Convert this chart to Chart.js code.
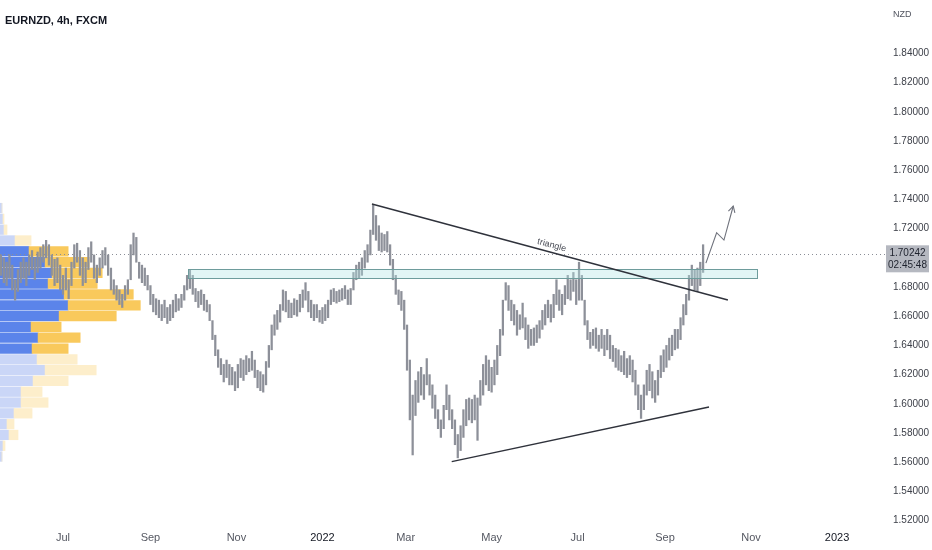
<!DOCTYPE html>
<html>
<head>
<meta charset="utf-8">
<title>EURNZD 4h</title>
<script src="https://cdn.jsdelivr.net/npm/chart.js@4.4.1/dist/chart.umd.min.js"></script>
<style>
html,body{margin:0;padding:0;background:#fff;}
canvas{display:block;}
</style>
</head>
<body>
<canvas id="chart" width="932" height="550"></canvas>
<script>
const title = "EURNZD, 4h, FXCM";
const currency = "NZD";

// sampled every 2 days, day 0 = 1 Jul 2021
const startDay = -44;
const stepDays = 2;

const highs = [
1.702,1.700,1.697,1.702,1.695,1.685,1.692,1.697,1.700,1.697,
1.702,1.705,1.700,1.704,1.707,1.709,1.712,1.709,1.702,1.699,
1.700,1.695,1.688,1.693,1.685,1.697,1.709,1.710,1.705,1.700,
1.697,1.707,1.711,1.702,1.695,1.700,1.705,1.707,1.702,1.693,
1.685,1.681,1.678,1.675,1.681,1.685,1.709,1.717,1.714,1.697,
1.695,1.693,1.688,1.681,1.675,1.672,1.671,1.668,1.671,1.666,
1.668,1.671,1.675,1.672,1.675,1.681,1.688,1.692,1.688,1.679,
1.677,1.678,1.675,1.671,1.668,1.657,1.647,1.637,1.631,1.627,
1.630,1.627,1.625,1.622,1.627,1.631,1.630,1.633,1.631,1.636,
1.630,1.623,1.622,1.620,1.629,1.640,1.654,1.661,1.664,1.668,
1.678,1.677,1.671,1.669,1.672,1.671,1.675,1.678,1.683,1.677,
1.671,1.668,1.668,1.664,1.666,1.668,1.671,1.678,1.679,1.677,
1.678,1.679,1.681,1.678,1.679,1.690,1.695,1.697,1.700,1.705,
1.709,1.719,1.736,1.729,1.722,1.717,1.716,1.718,1.709,1.699,
1.688,1.678,1.677,1.671,1.654,1.630,1.606,1.616,1.622,1.625,
1.620,1.631,1.620,1.613,1.606,1.596,1.589,1.599,1.613,1.606,
1.596,1.589,1.579,1.585,1.596,1.603,1.604,1.603,1.606,1.604,
1.616,1.627,1.633,1.630,1.625,1.630,1.640,1.651,1.671,1.683,
1.681,1.671,1.668,1.664,1.661,1.669,1.659,1.654,1.651,1.652,
1.654,1.657,1.664,1.668,1.671,1.668,1.675,1.685,1.678,1.675,
1.681,1.688,1.685,1.690,1.685,1.697,1.688,1.671,1.657,1.649,
1.651,1.652,1.647,1.651,1.647,1.651,1.647,1.640,1.638,1.637,
1.633,1.636,1.631,1.633,1.630,1.623,1.613,1.606,1.613,1.623,
1.627,1.622,1.616,1.623,1.633,1.637,1.640,1.645,1.647,1.651,
1.651,1.659,1.668,1.675,1.688,1.695,1.692,1.693,1.697,1.709
];

const lows = [
1.688,1.683,1.681,1.686,1.678,1.671,1.677,1.683,1.686,1.681,
1.688,1.692,1.685,1.690,1.693,1.697,1.700,1.695,1.688,1.681,
1.683,1.678,1.675,1.678,1.672,1.681,1.693,1.697,1.688,1.681,
1.683,1.692,1.697,1.686,1.683,1.688,1.693,1.695,1.688,1.678,
1.675,1.671,1.668,1.666,1.671,1.675,1.685,1.702,1.697,1.686,
1.683,1.681,1.678,1.668,1.663,1.661,1.659,1.657,1.659,1.655,
1.657,1.659,1.663,1.664,1.666,1.671,1.678,1.679,1.675,1.670,
1.666,1.668,1.664,1.663,1.657,1.644,1.633,1.625,1.620,1.615,
1.618,1.613,1.613,1.609,1.611,1.618,1.616,1.620,1.622,1.623,
1.618,1.611,1.609,1.608,1.613,1.625,1.637,1.647,1.651,1.656,
1.664,1.663,1.659,1.659,1.661,1.660,1.663,1.666,1.671,1.663,
1.659,1.657,1.659,1.656,1.655,1.657,1.659,1.668,1.670,1.669,
1.670,1.671,1.672,1.668,1.668,1.678,1.685,1.686,1.688,1.693,
1.697,1.702,1.716,1.712,1.705,1.704,1.705,1.704,1.695,1.685,
1.675,1.668,1.664,1.651,1.623,1.589,1.565,1.592,1.601,1.606,
1.603,1.613,1.606,1.597,1.590,1.583,1.577,1.583,1.596,1.589,
1.583,1.572,1.563,1.568,1.577,1.585,1.589,1.587,1.589,1.575,
1.599,1.606,1.613,1.609,1.608,1.613,1.620,1.633,1.647,1.671,
1.664,1.657,1.654,1.647,1.651,1.652,1.644,1.638,1.640,1.640,
1.642,1.645,1.651,1.654,1.659,1.656,1.659,1.668,1.664,1.661,
1.668,1.672,1.671,1.677,1.668,1.671,1.671,1.654,1.644,1.638,
1.640,1.638,1.636,1.638,1.633,1.637,1.631,1.629,1.625,1.623,
1.622,1.620,1.618,1.620,1.615,1.606,1.596,1.590,1.596,1.606,
1.609,1.604,1.601,1.606,1.618,1.622,1.625,1.630,1.633,1.637,
1.638,1.644,1.654,1.661,1.671,1.681,1.678,1.677,1.681,1.690
];

const lastPrice = 1.70242;
const countdown = "02:45:48";

const priceTicks = [1.52,1.54,1.56,1.58,1.60,1.62,1.64,1.66,1.68,1.72,1.74,1.76,1.78,1.80,1.82,1.84];
const timeTickDays = [0,62,123,184,243,304,365,427,488,549];
const timeTickLabels = ["Jul","Sep","Nov","2022","Mar","May","Jul","Sep","Nov","2023"];

// visible range volume profile
const vpPrices = [1.7341,1.7267,1.7193,1.7119,1.7045,1.6971,1.6897,1.6823,1.6749,1.6675,1.6601,1.6527,
                  1.6453,1.6379,1.6305,1.6231,1.6157,1.6083,1.6009,1.5935,1.5861,1.5787,1.5713,1.5639];
const vpUp   = [2,3,4,15,29,45,52,48,64,68,59,31,38,32,37,45,33,21,21,14,7,9,3,2];
const vpDown = [0,1,3,16,39,44,50,49,69,72,57,30,42,36,40,51,35,21,27,18,7,9,2,0];
const vpValueArea = [0,0,0,0,1,1,1,1,1,1,1,1,1,1,0,0,0,0,0,0,0,0,0,0];

// drawings (day, price)
const triangleTop = [[219.1,1.7369],[471.6,1.6711]];
const triangleBottom = [[275.7,1.5604],[458.2,1.5978]];
const zone = {from:88.9, to:492.2, low:1.6858, high:1.6922};
const arrowPath = [[456,1.6964],[463.6,1.7172],[468.8,1.7122],[475.4,1.7355]];

const fontFamily = "'Liberation Sans Narrow','Liberation Sans',Arial,sans-serif";

const candleData = highs.map((h,i)=>({x:startDay+stepDays*i, y:[lows[i],h]}));
const upData = vpPrices.map((p,i)=>({y:p, x:[0,vpUp[i]]}));
const downData = vpPrices.map((p,i)=>({y:p, x:[vpUp[i],vpUp[i]+vpDown[i]]}));

const drawings = {
  id:"drawings",
  afterDatasetsDraw(chart){
    const {ctx, chartArea:a, scales:{x,y}} = chart;
    const px = d=>x.getPixelForValue(d);
    const py = p=>y.getPixelForValue(p);
    ctx.save();
    ctx.beginPath();
    ctx.rect(a.left,a.top,a.right-a.left+6,a.bottom-a.top);
    ctx.clip();

    // last price dotted line
    ctx.strokeStyle = "#8a8d96";
    ctx.lineWidth = 1;
    ctx.setLineDash([1,3]);
    ctx.beginPath();
    ctx.moveTo(a.left, Math.round(py(lastPrice))+0.5);
    ctx.lineTo(a.right+4, Math.round(py(lastPrice))+0.5);
    ctx.stroke();
    ctx.setLineDash([]);

    // zone
    const zx = px(zone.from), zw = px(zone.to)-zx;
    const zy = py(zone.high), zh = py(zone.low)-zy;
    ctx.fillStyle = "rgba(178,228,228,0.38)";
    ctx.fillRect(zx,zy,zw,zh);
    ctx.strokeStyle = "#6e9c9c";
    ctx.lineWidth = 1;
    ctx.strokeRect(Math.round(zx)+0.5,Math.round(zy)+0.5,Math.round(zw),Math.round(zh));

    // triangle lines
    ctx.strokeStyle = "#2f323b";
    ctx.lineWidth = 1.4;
    [triangleTop, triangleBottom].forEach(l=>{
      ctx.beginPath();
      ctx.moveTo(px(l[0][0]),py(l[0][1]));
      ctx.lineTo(px(l[1][0]),py(l[1][1]));
      ctx.stroke();
    });

    // label along the upper line
    const x1=px(triangleTop[0][0]), y1=py(triangleTop[0][1]);
    const x2=px(triangleTop[1][0]), y2=py(triangleTop[1][1]);
    const ang = Math.atan2(y2-y1,x2-x1);
    const t = 0.5;
    ctx.save();
    ctx.translate(x1+(x2-x1)*t, y1+(y2-y1)*t);
    ctx.rotate(ang);
    ctx.fillStyle = "#4a4d57";
    ctx.font = "9px " + fontFamily;
    ctx.textAlign = "center";
    ctx.textBaseline = "middle";
    ctx.fillText("triangle",0,-7);
    ctx.restore();

    // projected path arrow
    ctx.strokeStyle = "#6f727c";
    ctx.lineWidth = 1.1;
    ctx.beginPath();
    arrowPath.forEach((p,i)=>{
      if(i===0) ctx.moveTo(px(p[0]),py(p[1])); else ctx.lineTo(px(p[0]),py(p[1]));
    });
    ctx.stroke();
    const n = arrowPath.length;
    const ex = px(arrowPath[n-1][0]), ey = py(arrowPath[n-1][1]);
    const sx = px(arrowPath[n-2][0]), sy = py(arrowPath[n-2][1]);
    const da = Math.atan2(ey-sy, ex-sx);
    ctx.beginPath();
    ctx.moveTo(ex-7*Math.cos(da-0.5), ey-7*Math.sin(da-0.5));
    ctx.lineTo(ex,ey);
    ctx.lineTo(ex-7*Math.cos(da+0.5), ey-7*Math.sin(da+0.5));
    ctx.stroke();
    ctx.restore();
  },
  afterDraw(chart){
    const {ctx, chartArea:a, scales:{y}} = chart;
    ctx.save();
    ctx.fillStyle = "#131722";
    ctx.font = "bold 11px " + fontFamily;
    ctx.textBaseline = "alphabetic";
    ctx.fillText(title, 5, 24);

    ctx.fillStyle = "#50535e";
    ctx.font = "9px " + fontFamily;
    ctx.fillText(currency, a.right+11, 17);

    // last price tag
    const cy = y.getPixelForValue(lastPrice);
    ctx.fillStyle = "#b5b8c0";
    ctx.fillRect(a.right+4, cy-9, 43, 27);
    ctx.fillStyle = "#1e222d";
    ctx.font = "10px " + fontFamily;
    ctx.textAlign = "center";
    ctx.textBaseline = "middle";
    ctx.fillText(lastPrice.toFixed(5), a.right+25.5, cy-1);
    ctx.fillText(countdown, a.right+25.5, cy+11);
    ctx.restore();
  }
};

function zeroPadding(scale){
  scale.paddingTop = 0; scale.paddingBottom = 0;
  scale.paddingLeft = 0; scale.paddingRight = 0;
}

new Chart(document.getElementById("chart"),{
  type:"bar",
  data:{
    datasets:[
      {
        label:"EURNZD",
        data:candleData,
        xAxisID:"x", yAxisID:"y",
        backgroundColor:"#8d9099",
        barThickness:1.6,
        grouped:false,
        order:0
      },
      {
        label:"Up volume",
        data:upData,
        indexAxis:"y",
        xAxisID:"vp", yAxisID:"y",
        backgroundColor:vpValueArea.map(v=>v?"#5b84ea":"#cad6f7"),
        barThickness:9.6,
        grouped:false,
        order:2
      },
      {
        label:"Down volume",
        data:downData,
        indexAxis:"y",
        xAxisID:"vp", yAxisID:"y",
        backgroundColor:vpValueArea.map(v=>v?"#f9c95c":"#fdeecb"),
        barThickness:9.6,
        grouped:false,
        order:1
      }
    ]
  },
  options:{
    responsive:false,
    animation:false,
    layout:{padding:0},
    plugins:{legend:{display:false},tooltip:{enabled:false}},
    scales:{
      x:{
        type:"linear", axis:"x", position:"bottom",
        min:-44.7, max:580.9, offset:false, beginAtZero:false,
        grid:{display:false, drawTicks:false, tickLength:0}, border:{display:false},
        afterBuildTicks:s=>{ s.ticks = timeTickDays.map(v=>({value:v})); },
        afterFit:s=>{ s.height = 26; zeroPadding(s); },
        ticks:{
          autoSkip:false, maxRotation:0, minRotation:0, padding:7,
          callback:(v,i)=>timeTickLabels[i],
          color:c=>/^\d/.test(timeTickLabels[c.index]||"")?"#131722":"#555862",
          font:{family:fontFamily, size:11}
        }
      },
      y:{
        type:"linear", axis:"y", position:"right",
        min:1.5177, max:1.8766, offset:false, beginAtZero:false,
        grid:{display:false, drawTicks:false, tickLength:0}, border:{display:false},
        afterBuildTicks:s=>{ s.ticks = priceTicks.map(v=>({value:v})); },
        afterFit:s=>{ s.width = 50; zeroPadding(s); },
        ticks:{
          padding:11, color:"#3c3f48",
          font:{family:fontFamily, size:10},
          callback:v=>Number(v).toFixed(5)
        }
      },
      vp:{
        type:"linear", axis:"x", display:false,
        min:0, max:880, offset:false, beginAtZero:true
      }
    }
  },
  plugins:[drawings]
});
</script>
</body>
</html>
